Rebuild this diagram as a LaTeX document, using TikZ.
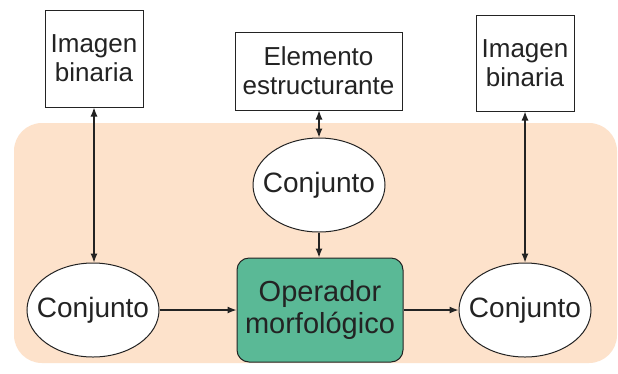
\documentclass[tikz,border=0pt]{standalone}
\usepackage{fontspec}
\setmainfont{Liberation Sans}
\definecolor{mepeach}{RGB}{253,226,203}
\definecolor{megreen}{RGB}{90,185,150}
\definecolor{meline}{RGB}{35,35,35}
\usetikzlibrary{arrows.meta, positioning, shapes}
\tikzset{
	imgbox/.style={draw=meline, fill=white, line width=1pt, align=center, inner sep=0pt, text=meline, font=\fontsize{26}{29}\selectfont},
	conjunto/.style={ellipse, draw=meline, fill=white, line width=1pt, minimum width=132pt, minimum height=94pt, inner xsep=-10pt, inner ysep=0pt, text=meline, font=\fontsize{28}{32}\selectfont},
	operador/.style={draw=meline, fill=megreen, line width=1pt, rounded corners=12pt, align=center, minimum width=166pt, minimum height=104pt, inner sep=0pt, text=meline, font=\fontsize{29}{32}\selectfont},
	flecha/.style={meline, line width=1.2pt, -{Latex[length=9pt,width=7pt]}},
	doble/.style={meline, line width=1.2pt, {Latex[length=9pt,width=7pt]}-{Latex[length=9pt,width=7pt]}},
}

\begin{document}
\begin{tikzpicture}[x=1pt, y=-1pt]
	\useasboundingbox (0,0) rectangle (618,373);
	\fill[white] (0,0) rectangle (618,373);
	\fill[mepeach, rounded corners=28pt] (14,123) rectangle (617,363);
	% cajas de arriba
	\node[imgbox, minimum width=98pt, minimum height=97pt] (imgA) at (94,58.5) {Imagen\\binaria};
	\node[imgbox, minimum width=167pt, minimum height=78pt] (elem) at (318.5,71) {Elemento\\estructurante};
	\node[imgbox, minimum width=98pt, minimum height=96pt] (imgB) at (525,63) {Imagen\\binaria};
	% conjuntos y operador
	\node[conjunto] (conjA) at (93,310) {Conjunto};
	\node[conjunto] (conjB) at (319,185) {Conjunto};
	\node[conjunto] (conjC) at (525,310) {Conjunto};
	\node[operador] (oper) at (320,310) {Operador\\morfológico};
	% flechas
	\draw[doble] (imgA.south) -- (imgA.south |- conjA.north);
	\draw[doble] (elem.south -| conjB.north) -- (conjB.north);
	\draw[doble] (imgB.south) -- (conjC.north);
	\draw[flecha] (conjB.south) -- (conjB.south |- oper.north);
	\draw[flecha] (conjA.east) -- (oper.west);
	\draw[flecha] (oper.east) -- (conjC.west);
\end{tikzpicture}
\end{document}
